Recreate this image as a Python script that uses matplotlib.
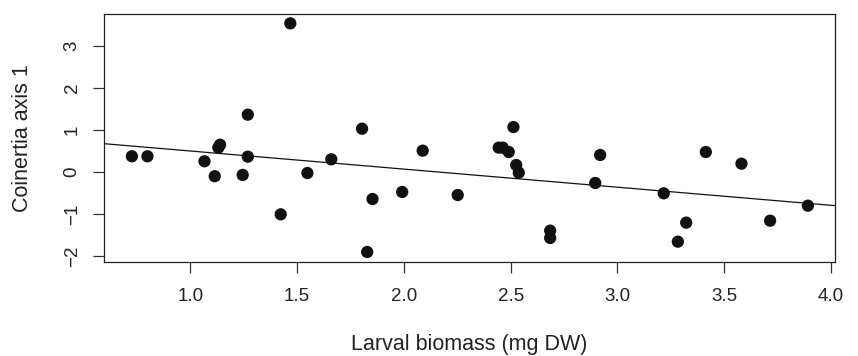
import numpy as np
import matplotlib.pyplot as plt

plt.rcParams['font.family'] = ['Liberation Sans', 'DejaVu Sans']

# larval biomass (mg DW) and coinertia axis 1 scores
biomass = [0.726, 0.799, 1.066, 1.114, 1.131, 1.139, 1.245, 1.269, 1.269, 1.468,
           1.423, 1.548, 1.660, 1.804, 1.853, 1.828, 1.992, 2.088, 2.252, 2.444,
           2.463, 2.491, 2.513, 2.526, 2.538, 2.685, 2.685, 2.896, 2.919, 3.217,
           3.283, 3.322, 3.414, 3.581, 3.715, 3.892]
axis1 = [0.374, 0.374, 0.255, -0.10, 0.58, 0.65, -0.07, 1.365, 0.365, 3.54,
         -1.008, -0.024, 0.302, 1.032, -0.643, -1.905, -0.476, 0.508, -0.548, 0.58,
         0.58, 0.476, 1.07, 0.167, -0.016, -1.397, -1.571, -0.262, 0.405, -0.508,
         -1.659, -1.206, 0.476, 0.198, -1.159, -0.802]

# regression line (intercept, slope)
fit_a = 0.931
fit_b = -0.431

xticks = [1.0, 1.5, 2.0, 2.5, 3.0, 3.5, 4.0]
yticks = [-2, -1, 0, 1, 2, 3]

fig = plt.figure(figsize=(8.58, 3.56), dpi=100)
ax = fig.add_axes([0.1216, 0.2649, 0.8516, 0.6949])

xl = (0.597, 4.019)
ax.set_xlim(*xl)
ax.set_ylim(-2.136, 3.755)

xs = np.array(xl)
ax.plot(xs, fit_a + fit_b * xs, color='#111111', lw=0.9, zorder=2)
ax.scatter(biomass, axis1, s=78, color='#111111', edgecolors='none', zorder=3)

ax.set_xticks(xticks)
ax.set_xticklabels([f'{t:.1f}' for t in xticks])
ax.set_yticks(yticks)
ax.set_yticklabels(['\u22122', '\u22121', '0', '1', '2', '3'], rotation=90, va='center')

ax.tick_params(direction='out', length=8, width=0.9, color='#333333',
               labelsize=13.5, labelcolor='#222222')
ax.tick_params(axis='x', pad=11)
ax.tick_params(axis='y', pad=9)

for s in ax.spines.values():
    s.set_linewidth(0.9)
    s.set_color('#222222')

ax.set_xlabel('Larval biomass (mg DW)', fontsize=15.5, color='#222222', labelpad=21)
ax.set_ylabel('Coinertia axis 1', fontsize=15.5, color='#222222', labelpad=22)

fig.savefig('out.png', dpi=100)
